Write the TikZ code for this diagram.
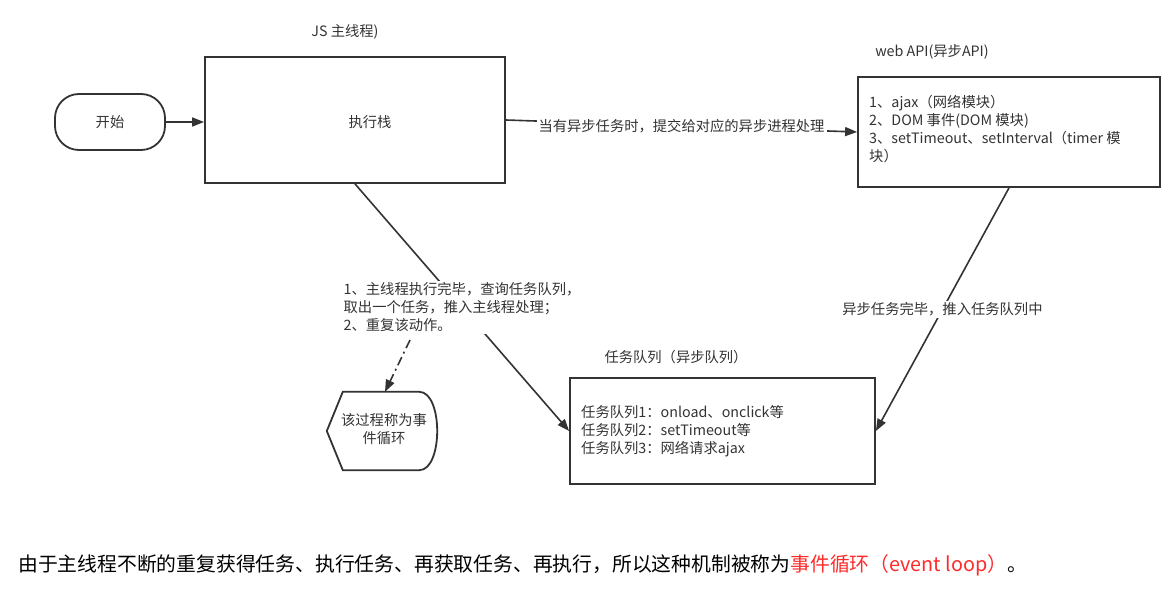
\documentclass[tikz,border=0pt]{standalone}
\usepackage{fontspec}
\setmainfont{Noto Sans CJK SC}
\usetikzlibrary{arrows.meta}
\definecolor{ink}{HTML}{333333}
\definecolor{redtxt}{HTML}{FF2A2A}
\begin{document}
\begin{tikzpicture}[x=1pt,y=-1pt,
  box/.style={draw=ink, line width=1.8pt, rectangle, inner sep=0pt},
  lbl/.style={font=\fontsize{14.3}{18}\selectfont, text=ink, inner sep=1pt},
  arr/.style={draw=ink, line width=1.6pt, -{Triangle[length=12pt,width=9pt]}},
  elbl/.style={lbl, fill=white, inner sep=2pt}]
\useasboundingbox (0,0) rectangle (1174,593);

% nodes
\node[box, rounded corners=24pt, minimum width=110pt, minimum height=56pt, lbl, inner sep=0pt] (start) at (110,122) {开始};
\node[box, minimum width=300pt, minimum height=126pt] (stack) at (355,120) {};
\node[lbl] (stacktxt) at (370,122) {执行栈};
\node[lbl] (jstitle) at (345,32) {JS 主线程)};

\node[box, minimum width=302pt, minimum height=110pt] (api) at (1009,132) {};
\node[lbl] (apititle) at (932,52) {web API(异步API)};
\node[lbl, anchor=north west, align=left] (apitxt) at (868,94) {1、ajax（网络模块）\\2、DOM 事件(DOM 模块)\\3、setTimeout、setInterval（timer 模\\块）};

\node[box, minimum width=305pt, minimum height=106pt] (queue) at (722.5,431) {};
\node[lbl] (queuetitle) at (676,357) {任务队列（异步队列）};
\node[lbl, anchor=west, align=left] (queuetxt) at (580,431) {任务队列1：onload、onclick等\\任务队列2：setTimeout等\\任务队列3：网络请求ajax};

\node[minimum width=110pt, minimum height=78pt, inner sep=0pt] (loop) at (382,431) {};
\draw[ink, line width=1.8pt]
  ([xshift=16pt]loop.north west) -- ([xshift=-18pt]loop.north east)
  .. controls ([xshift=6pt]loop.north east) and ([xshift=6pt]loop.south east) .. ([xshift=-18pt]loop.south east)
  -- ([xshift=16pt]loop.south west) -- (loop.west) -- cycle;
\node[lbl, align=center] (looptxt) at (384,429) {该过程称为事\\件循环};

% connectors
\draw[arr] (start) -- (start -| stack.west);
\draw[arr] (stack.east) -- (api.west)
  node[elbl, midway] (l0) {当有异步任务时，提交给对应的异步进程处理};
\draw[arr] (api.south) -- (queue.east)
  node[elbl, midway] (l2) {异步任务完毕，推入任务队列中};
\draw[arr] (stack.south) -- (queue.west)
  node[elbl, midway, align=left] (l1) {1、主线程执行完毕，查询任务队列，\\取出一个任务，推入主线程处理；\\2、重复该动作。};
\coordinate (dd) at (410,340);
\draw[arr, dash pattern=on 9pt off 4pt on 2pt off 4pt] (dd) -- ([xshift=3pt]loop.north);

% bottom text
\node[anchor=west, font=\fontsize{19.8}{24}\selectfont, text=black, inner sep=0pt] (bottom) at (18,565)
  {由于主线程不断的重复获得任务、执行任务、再获取任务、再执行，所以这种机制被称为\textcolor{redtxt}{事件循环（event loop）}。};
\end{tikzpicture}
\end{document}
